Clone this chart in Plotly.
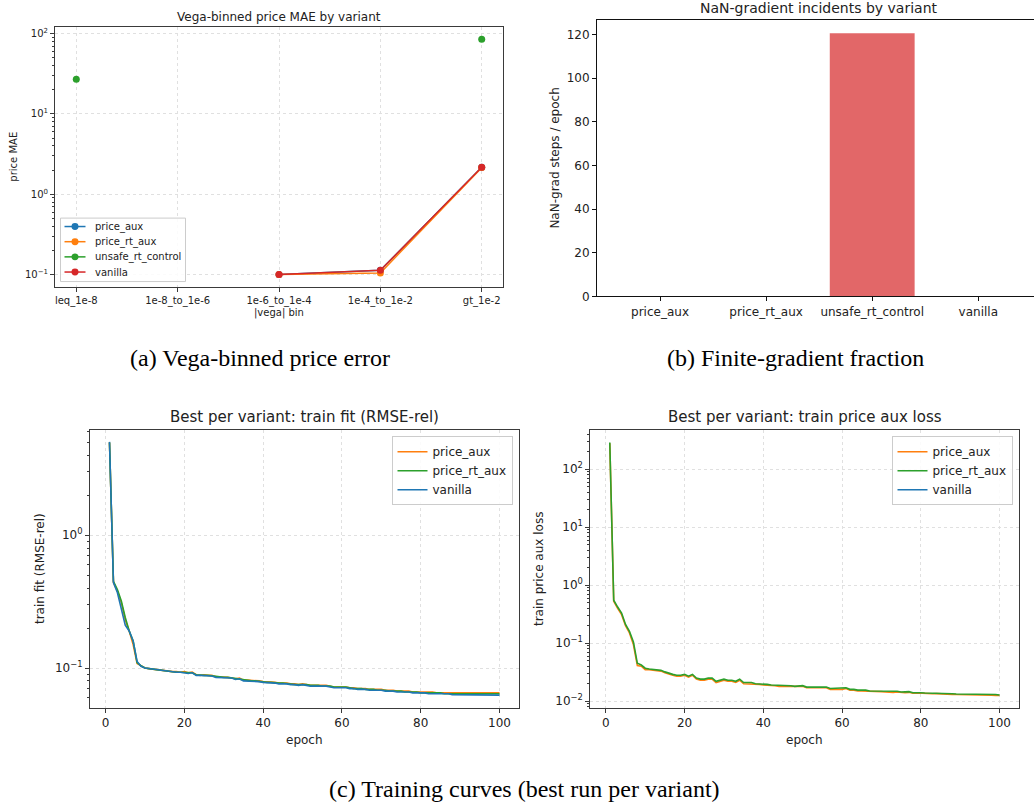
import plotly.graph_objects as go

W, H = 1034, 812

# ---------------- data ----------------
vega_bins = ["leq_1e-8", "1e-8_to_1e-6", "1e-6_to_1e-4", "1e-4_to_1e-2", "gt_1e-2"]
mae_price_aux = [None, None, 0.100, 0.113, 2.17]
mae_price_rt_aux = [None, None, 0.100, 0.105, 2.15]
mae_unsafe_rt_control = [27.0, None, None, None, 85.0]
mae_vanilla = [None, None, 0.100, 0.113, 2.17]

nan_variants = ["price_aux", "price_rt_aux", "unsafe_rt_control", "vanilla"]
nan_steps = [0, 0, 120.6, 0]

epochs = list(range(1, 101))

rmse_vanilla = [
    5.05, 0.44, 0.37, 0.28, 0.21, 0.19, 0.16, 0.112, 0.103, 0.100,
    0.099, 0.098, 0.097, 0.097, 0.096, 0.095, 0.094, 0.093, 0.093, 0.092,
    0.091, 0.092, 0.088, 0.088, 0.088, 0.087, 0.087, 0.085, 0.085, 0.085,
    0.084, 0.084, 0.082, 0.083, 0.080, 0.080, 0.080, 0.079, 0.079, 0.078,
    0.078, 0.077, 0.077, 0.076, 0.076, 0.076, 0.075, 0.075, 0.074, 0.075,
    0.074, 0.073, 0.073, 0.073, 0.073, 0.073, 0.072, 0.071, 0.071, 0.071,
    0.071, 0.070, 0.070, 0.069, 0.069, 0.069, 0.068, 0.068, 0.068, 0.068,
    0.067, 0.067, 0.067, 0.066, 0.066, 0.066, 0.066, 0.065, 0.065, 0.065,
    0.065, 0.064, 0.064, 0.064, 0.064, 0.064, 0.064, 0.063, 0.063, 0.063,
    0.063, 0.063, 0.063, 0.063, 0.063, 0.0625, 0.0625, 0.0625, 0.0625, 0.0625,
]
rmse_price_aux = [
    5.0, 0.44, 0.38, 0.31, 0.23, 0.19, 0.15, 0.108, 0.104, 0.100,
    0.099, 0.098, 0.098, 0.097, 0.096, 0.095, 0.094, 0.094, 0.093, 0.094,
    0.092, 0.093, 0.089, 0.088, 0.089, 0.088, 0.088, 0.086, 0.086, 0.085,
    0.085, 0.084, 0.083, 0.084, 0.081, 0.081, 0.081, 0.080, 0.080, 0.079,
    0.079, 0.078, 0.078, 0.077, 0.077, 0.077, 0.076, 0.076, 0.075, 0.076,
    0.075, 0.074, 0.074, 0.074, 0.074, 0.074, 0.073, 0.072, 0.072, 0.072,
    0.072, 0.071, 0.071, 0.070, 0.070, 0.070, 0.069, 0.069, 0.069, 0.069,
    0.068, 0.068, 0.068, 0.067, 0.067, 0.067, 0.067, 0.066, 0.066, 0.066,
    0.066, 0.066, 0.066, 0.065, 0.065, 0.065, 0.065, 0.065, 0.065, 0.065,
    0.065, 0.065, 0.065, 0.065, 0.065, 0.065, 0.065, 0.065, 0.065, 0.065,
]
rmse_price_rt_aux = [
    5.0, 0.45, 0.39, 0.32, 0.24, 0.19, 0.16, 0.110, 0.104, 0.100,
    0.099, 0.098, 0.097, 0.097, 0.096, 0.095, 0.094, 0.093, 0.093, 0.093,
    0.092, 0.092, 0.089, 0.088, 0.088, 0.088, 0.087, 0.086, 0.085, 0.085,
    0.085, 0.084, 0.083, 0.083, 0.081, 0.081, 0.080, 0.080, 0.079, 0.079,
    0.078, 0.078, 0.077, 0.077, 0.077, 0.076, 0.076, 0.075, 0.075, 0.075,
    0.075, 0.074, 0.074, 0.074, 0.073, 0.073, 0.073, 0.072, 0.072, 0.072,
    0.072, 0.071, 0.070, 0.070, 0.070, 0.069, 0.069, 0.069, 0.068, 0.068,
    0.068, 0.067, 0.067, 0.067, 0.067, 0.066, 0.066, 0.066, 0.066, 0.065,
    0.065, 0.065, 0.065, 0.065, 0.065, 0.064, 0.064, 0.064, 0.064, 0.064,
    0.064, 0.064, 0.064, 0.064, 0.064, 0.064, 0.064, 0.064, 0.064, 0.064,
]

aux_price_rt_aux = [
    290, 0.55, 0.42, 0.33, 0.21, 0.16, 0.105, 0.045, 0.042, 0.037,
    0.036, 0.035, 0.034, 0.034, 0.032, 0.030, 0.029, 0.028, 0.028, 0.029,
    0.027, 0.029, 0.025, 0.024, 0.024, 0.025, 0.025, 0.022, 0.023, 0.024,
    0.023, 0.023, 0.022, 0.024, 0.021, 0.021, 0.021, 0.020, 0.020, 0.0195,
    0.0195, 0.019, 0.019, 0.019, 0.0185, 0.0185, 0.0185, 0.018, 0.018, 0.0185,
    0.0175, 0.0175, 0.0175, 0.017, 0.017, 0.0175, 0.0165, 0.0165, 0.0165, 0.0165,
    0.017, 0.016, 0.016, 0.0155, 0.0155, 0.0155, 0.015, 0.015, 0.015, 0.015,
    0.0148, 0.0146, 0.0146, 0.0148, 0.0144, 0.0144, 0.0146, 0.0140, 0.0142, 0.0140,
    0.0138, 0.0138, 0.0137, 0.0138, 0.0136, 0.0135, 0.0134, 0.0134, 0.0133, 0.0133,
    0.0133, 0.0132, 0.0132, 0.0131, 0.0131, 0.0130, 0.0130, 0.0130, 0.0130, 0.0128,
]
aux_price_aux = [
    280, 0.53, 0.40, 0.31, 0.20, 0.15, 0.095, 0.041, 0.040, 0.035,
    0.035, 0.034, 0.033, 0.033, 0.031, 0.029, 0.028, 0.027, 0.027, 0.028,
    0.026, 0.028, 0.024, 0.023, 0.023, 0.024, 0.024, 0.021, 0.022, 0.023,
    0.022, 0.022, 0.021, 0.023, 0.020, 0.020, 0.020, 0.0195, 0.0195, 0.019,
    0.019, 0.0185, 0.0185, 0.018, 0.018, 0.018, 0.018, 0.0175, 0.0175, 0.018,
    0.017, 0.017, 0.017, 0.0165, 0.0165, 0.017, 0.016, 0.016, 0.016, 0.016,
    0.0165, 0.0155, 0.0155, 0.015, 0.015, 0.015, 0.0146, 0.0146, 0.0146, 0.0146,
    0.0144, 0.0142, 0.0142, 0.0144, 0.0140, 0.0140, 0.0142, 0.0137, 0.0139, 0.0137,
    0.0135, 0.0135, 0.0134, 0.0135, 0.0133, 0.0132, 0.0131, 0.0131, 0.0130, 0.0130,
    0.0130, 0.0129, 0.0129, 0.0128, 0.0128, 0.0127, 0.0127, 0.0127, 0.0126, 0.0125,
]
aux_vanilla = [None] * 100

mae_series_names = ["price_aux", "price_rt_aux", "unsafe_rt_control", "vanilla"]

# ---------------- style ----------------
C_BLUE, C_ORANGE, C_GREEN, C_RED = "#1f77b4", "#ff7f0e", "#2ca02c", "#d62728"
FONT = "DejaVu Sans"
SPINE = "#3a3a3a"
TXT = "#222222"
GRID = "#e0e0e0"


def px(x):
    return x / W


def py(y):
    return 1 - y / H


def minor_vals(lo_exp, hi_exp):
    vals = []
    for e in range(lo_exp, hi_exp + 1):
        for m in range(2, 10):
            vals.append(m * 10 ** e)
    return vals


def sup(e):
    s = str(e).replace("-", "\u2212")
    return f"10<sup>{s}</sup>"


fig = go.Figure()

# ---- panel (a) ----
mae_colors = [C_BLUE, C_ORANGE, C_GREEN, C_RED]
for name, vals, col in zip(mae_series_names,
                           [mae_price_aux, mae_price_rt_aux, mae_unsafe_rt_control, mae_vanilla],
                           mae_colors):
    fig.add_trace(go.Scatter(
        x=vega_bins, y=vals, name=name, mode="lines+markers",
        line=dict(color=col, width=1.5), marker=dict(color=col, size=7),
        xaxis="x", yaxis="y", showlegend=False,
    ))

# ---- panel (b) ----
fig.add_trace(go.Bar(
    x=nan_variants, y=nan_steps, width=0.8,
    marker=dict(color=C_RED, opacity=0.7, line=dict(width=0)),
    xaxis="x2", yaxis="y2", showlegend=False,
))

# ---- panel (c) left ----
for name, vals, col in [
    ("price_aux", rmse_price_aux, C_ORANGE),
    ("price_rt_aux", rmse_price_rt_aux, C_GREEN),
    ("vanilla", rmse_vanilla, C_BLUE),
]:
    fig.add_trace(go.Scatter(
        x=epochs, y=vals, name=name, mode="lines",
        line=dict(color=col, width=1.6),
        xaxis="x3", yaxis="y3", legend="legend2",
    ))

# ---- panel (c) right ----
for name, vals, col in [
    ("price_aux", aux_price_aux, C_ORANGE),
    ("price_rt_aux", aux_price_rt_aux, C_GREEN),
    ("vanilla", aux_vanilla, C_BLUE),
]:
    fig.add_trace(go.Scatter(
        x=epochs, y=vals, name=name, mode="lines",
        line=dict(color=col, width=1.6),
        xaxis="x4", yaxis="y4", legend="legend3",
    ))


def axis_common(size, mirror=True, grid=True, color=SPINE):
    return dict(
        showline=True, linecolor=color, linewidth=1, mirror=mirror,
        ticks="outside", ticklen=4, tickwidth=1, tickcolor=color,
        tickfont=dict(family=FONT, size=size, color=TXT),
        showgrid=grid, gridcolor=GRID, griddash="dot", gridwidth=1,
        zeroline=False,
    )


layout = dict(
    width=W, height=H, autosize=False,
    margin=dict(l=0, r=0, t=0, b=0),
    paper_bgcolor="white", plot_bgcolor="white",
)

# (a) axes
layout["xaxis"] = dict(
    domain=[px(55), px(503)], anchor="y", type="category",
    range=[-0.21, 4.21], **axis_common(10),
)
layout["yaxis"] = dict(
    domain=[py(289), py(27)], anchor="x", type="log",
    range=[-1.148, 2.086],
    tickvals=[0.1, 1, 10, 100], ticktext=[sup(-1), sup(0), sup(1), sup(2)],
    minor=dict(tickvals=minor_vals(-1, 1), ticks="outside", ticklen=2, tickcolor=SPINE, showgrid=False),
    **axis_common(10),
)
# (b) axes
layout["xaxis2"] = dict(
    domain=[px(597), 1.0], anchor="y2", type="category",
    range=[-0.594, 3.525], **axis_common(12, mirror=True, grid=False, color="#111111"),
)
layout["yaxis2"] = dict(
    domain=[py(299), py(20)], anchor="x2",
    range=[0, 126.7], tickvals=[0, 20, 40, 60, 80, 100, 120],
    **axis_common(12, mirror=False, grid=False, color="#111111"),
)
# (c) left axes
layout["xaxis3"] = dict(
    domain=[px(90), px(519)], anchor="y3",
    range=[-3.95, 104.95], tickvals=[0, 20, 40, 60, 80, 100],
    **axis_common(12),
)
layout["yaxis3"] = dict(
    domain=[py(714), py(433.7)], anchor="x3", type="log",
    range=[-1.30, 0.793],
    tickvals=[0.1, 1], ticktext=[sup(-1), sup(0)],
    minor=dict(tickvals=[0.06, 0.07, 0.08, 0.09, 0.2, 0.3, 0.4, 0.5, 0.6, 0.7, 0.8, 0.9, 2, 3, 4, 5, 6],
               ticks="outside", ticklen=2, tickcolor=SPINE, showgrid=False),
    **axis_common(12),
)
# (c) right axes
layout["xaxis4"] = dict(
    domain=[px(590.3), px(1019)], anchor="y4",
    range=[-3.95, 104.95], tickvals=[0, 20, 40, 60, 80, 100],
    **axis_common(12),
)
layout["yaxis4"] = dict(
    domain=[py(714), py(433.7)], anchor="x4", type="log",
    range=[-2.115, 2.677],
    tickvals=[0.01, 0.1, 1, 10, 100], ticktext=[sup(-2), sup(-1), sup(0), sup(1), sup(2)],
    minor=dict(tickvals=minor_vals(-3, 2), ticks="outside", ticklen=2, tickcolor=SPINE, showgrid=False),
    **axis_common(12),
)

leg_common = dict(bgcolor="rgba(255,255,255,0.85)", bordercolor="#cccccc", borderwidth=1,
                  tracegroupgap=0, itemwidth=30)
layout["legend2"] = dict(x=px(512.5), y=py(440), xanchor="right", yanchor="top",
                         font=dict(family=FONT, size=12, color=TXT), **leg_common)
layout["legend3"] = dict(x=px(1012.5), y=py(440), xanchor="right", yanchor="top",
                         font=dict(family=FONT, size=12, color=TXT), **leg_common)

ann = []
shapes = []


def text(x, y, s, size, angle=0, family=FONT, color=TXT, xanchor="center"):
    ann.append(dict(x=px(x), y=py(y), xref="paper", yref="paper", text=s, showarrow=False,
                    xanchor=xanchor, yanchor="middle", textangle=angle,
                    font=dict(family=family, size=size, color=color)))


# (a) legend box (compact, matplotlib-like)
shapes.append(dict(type="rect", xref="paper", yref="paper",
                   x0=px(60.5), x1=px(185.5), y0=py(284), y1=py(220),
                   line=dict(color="#cccccc", width=1), fillcolor="rgba(255,255,255,0.85)", layer="above"))
for i, (name, col) in enumerate(zip(mae_series_names, mae_colors)):
    yy = 228.5 + i * 15.3
    shapes.append(dict(type="line", xref="paper", yref="paper",
                       x0=px(64.5), x1=px(85.5), y0=py(yy), y1=py(yy),
                       line=dict(color=col, width=1.5), layer="above"))
    shapes.append(dict(type="circle", xref="paper", yref="paper",
                       x0=px(75 - 3.5), x1=px(75 + 3.5), y0=py(yy + 3.5), y1=py(yy - 3.5),
                       line=dict(width=0), fillcolor=col, layer="above"))
    text(93, yy, name, 10, xanchor="left")

# titles
text(279, 17, "Vega-binned price MAE by variant", 12)
text(819, 8, "NaN-gradient incidents by variant", 14)
text(304.5, 421, "Best per variant: train fit (RMSE-rel)", 15)
text(804.7, 421, "Best per variant: train price aux loss", 15)
# axis labels
text(279, 316, "|vega| bin", 10)
text(14, 158, "price MAE", 10, angle=-90)
text(555, 160, "NaN-grad steps / epoch", 12, angle=-90)
text(304.5, 746, "epoch", 12)
text(40, 574, "train fit (RMSE-rel)", 12, angle=-90)
text(804.7, 746, "epoch", 12)
text(539, 574, "train price aux loss", 12, angle=-90)
# captions
SERIF = "Liberation Serif"
text(260, 361, "(a) Vega-binned price error", 24, family=SERIF, color="#000")
text(795, 361, "(b) Finite-gradient fraction", 24, family=SERIF, color="#000")
text(524, 796, "(c) Training curves (best run per variant)", 24, family=SERIF, color="#000")

layout["annotations"] = ann
layout["shapes"] = shapes
fig.update_layout(**layout)

fig.write_html(
    "out.html",
    config={"displayModeBar": False},
    post_script="document.body.style.margin='0';document.body.style.overflow='hidden';",
)
